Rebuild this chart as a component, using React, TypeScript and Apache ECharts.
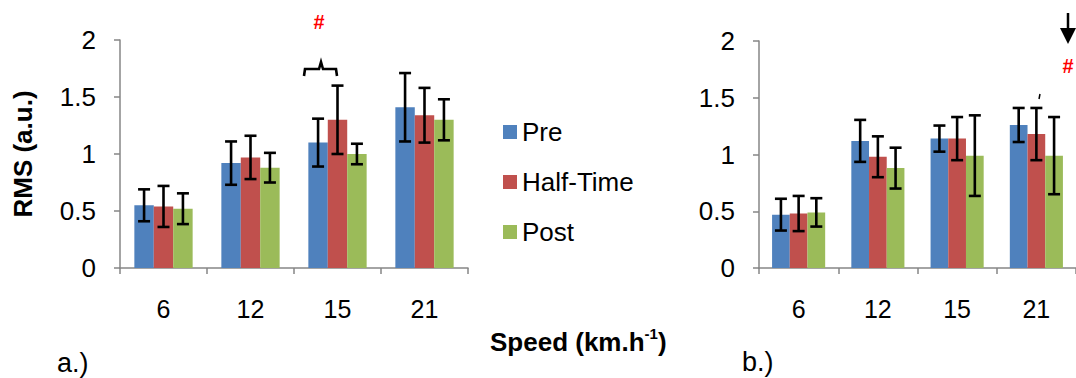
import React, { useEffect, useRef } from "react";
import * as echarts from "echarts";

const categories = ["6", "12", "15", "21"];
const seriesNames = ["Pre", "Half-Time", "Post"];
const colors = ["#4F81BD", "#C0504D", "#9BBB59"];

// Panel a.)
const aPre = [0.55, 0.92, 1.1, 1.41];
const aPreErr = [0.14, 0.19, 0.21, 0.3];
const aHalf = [0.54, 0.97, 1.3, 1.34];
const aHalfErr = [0.18, 0.19, 0.3, 0.24];
const aPost = [0.52, 0.88, 1.0, 1.3];
const aPostErr = [0.135, 0.13, 0.09, 0.18];

// Panel b.)
const bPre = [0.47, 1.12, 1.14, 1.26];
const bPreErr = [0.14, 0.185, 0.115, 0.15];
const bHalf = [0.48, 0.98, 1.14, 1.18];
const bHalfErr = [0.155, 0.18, 0.19, 0.23];
const bPost = [0.49, 0.88, 0.99, 0.99];
const bPostErr = [0.125, 0.18, 0.355, 0.34];

const yTicks = [0, 0.5, 1, 1.5, 2];

const FONT = 'Arial, "Liberation Sans", sans-serif';
const AXIS_COLOR = "#868686";
const CAT_GAP = 0.33;

function errorSeries(gridIdx: number, k: number, vals: number[], errs: number[]) {
  return {
    type: "custom",
    name: seriesNames[k] + " SD",
    xAxisIndex: gridIdx,
    yAxisIndex: gridIdx,
    z: 10,
    silent: true,
    encode: { x: 0, y: 1 },
    data: vals.map((v, i) => [i, v, errs[i]]),
    renderItem: (params: any, api: any) => {
      const cat = api.value(0);
      const val = api.value(1);
      const err = api.value(2);
      const catW = api.size([1, 0])[0];
      const barW = (catW * (1 - CAT_GAP)) / 3;
      const off = (k - 1) * barW;
      const top = api.coord([cat, val + err]);
      const bot = api.coord([cat, val - err]);
      const x = top[0] + off;
      const cap = 6;
      const style = { stroke: "#000", lineWidth: 2.6 };
      return {
        type: "group",
        children: [
          { type: "line", shape: { x1: x, y1: top[1], x2: x, y2: bot[1] }, style },
          { type: "line", shape: { x1: x - cap, y1: top[1], x2: x + cap, y2: top[1] }, style },
          { type: "line", shape: { x1: x - cap, y1: bot[1], x2: x + cap, y2: bot[1] }, style },
        ],
      };
    },
  };
}

function barSeries(gridIdx: number, k: number, vals: number[]) {
  return {
    type: "bar",
    name: seriesNames[k],
    xAxisIndex: gridIdx,
    yAxisIndex: gridIdx,
    data: vals,
    barGap: "0%",
    barCategoryGap: CAT_GAP * 100 + "%",
    itemStyle: { color: colors[k] },
  };
}

function xAxis(gridIndex: number) {
  return {
    type: "category",
    gridIndex,
    data: categories,
    axisLine: { lineStyle: { color: AXIS_COLOR, width: 1.5 } },
    axisTick: { show: true, length: 6, lineStyle: { color: AXIS_COLOR, width: 1.5 } },
    axisLabel: { color: "#000", fontSize: 25, fontFamily: FONT, margin: 28 },
  };
}

function yAxis(gridIndex: number, name: string) {
  return {
    type: "value",
    gridIndex,
    min: 0,
    max: 2,
    interval: 0.5,
    name,
    nameLocation: "middle",
    nameGap: 84,
    nameTextStyle: { color: "#000", fontSize: 26, fontWeight: "bold", fontFamily: FONT },
    axisLine: { show: true, lineStyle: { color: AXIS_COLOR, width: 1.5 } },
    axisTick: { show: true, length: 6, lineStyle: { color: AXIS_COLOR, width: 1.5 } },
    splitLine: { show: false },
    axisLabel: {
      color: "#000",
      fontSize: 26,
      fontFamily: FONT,
      margin: 24,
      formatter: (v: number) => (yTicks.includes(v) ? String(v) : ""),
    },
  };
}

export default function App() {
  const ref = useRef<HTMLDivElement>(null);
  useEffect(() => {
    if (!ref.current) return;
    const chart = echarts.init(ref.current, undefined, { renderer: "svg" });
    chart.setOption({
      animation: false,
      backgroundColor: "#fff",
      textStyle: { fontFamily: FONT },
      grid: [
        { left: 120, top: 40, width: 348, height: 228 },
        { left: 759, top: 41, width: 327, height: 227 },
      ],
      xAxis: [xAxis(0), xAxis(1)],
      yAxis: [yAxis(0, "RMS (a.u.)"), yAxis(1, "")],
      legend: {
        data: seriesNames,
        orient: "vertical",
        left: 498,
        top: 114,
        itemWidth: 14,
        itemHeight: 14,
        itemGap: 24,
        icon: "rect",
        textStyle: { color: "#000", fontSize: 26, fontFamily: FONT },
      },
      series: [
        barSeries(0, 0, aPre),
        barSeries(0, 1, aHalf),
        barSeries(0, 2, aPost),
        barSeries(1, 0, bPre),
        barSeries(1, 1, bHalf),
        barSeries(1, 2, bPost),
        errorSeries(0, 0, aPre, aPreErr),
        errorSeries(0, 1, aHalf, aHalfErr),
        errorSeries(0, 2, aPost, aPostErr),
        errorSeries(1, 0, bPre, bPreErr),
        errorSeries(1, 1, bHalf, bHalfErr),
        errorSeries(1, 2, bPost, bPostErr),
      ],
      graphic: [
        {
          type: "text",
          left: 490,
          top: 326,
          style: {
            text: "{b|Speed (km.h}{s|-1}{b|)}",
            rich: {
              b: { fontSize: 26, fontWeight: "bold", fontFamily: FONT, fill: "#000", lineHeight: 32 },
              s: { fontSize: 15, fontWeight: "bold", fontFamily: FONT, fill: "#000", verticalAlign: "top", lineHeight: 32, padding: [0, 0, 12, 0] },
            },
          },
        },
        { type: "text", x: 57, y: 363, style: { text: "a.)", fontSize: 27, fontFamily: FONT, fill: "#000", verticalAlign: "middle" } },
        { type: "text", x: 742, y: 362, style: { text: "b.)", fontSize: 27, fontFamily: FONT, fill: "#000", verticalAlign: "middle" } },
        { type: "text", x: 319, y: 22, style: { text: "#", fontSize: 20, fontWeight: "bold", fontFamily: FONT, fill: "#FF0000", align: "center", verticalAlign: "middle" } },
        { type: "text", x: 1068, y: 66, style: { text: "#", fontSize: 20, fontWeight: "bold", fontFamily: FONT, fill: "#FF0000", align: "center", verticalAlign: "middle" } },
        {
          type: "polyline",
          shape: { points: [[304, 76], [305, 69], [319, 69], [321, 62], [323, 69], [336, 69], [337, 76]] },
          style: { stroke: "#000", lineWidth: 2.6, fill: "none" },
        },
        { type: "line", shape: { x1: 1068, y1: 13, x2: 1068, y2: 30 }, style: { stroke: "#000", lineWidth: 2.5 } },
        { type: "polygon", shape: { points: [[1060, 28], [1076, 28], [1068, 44]] }, style: { fill: "#000" } },
        { type: "line", shape: { x1: 1040, y1: 94, x2: 1039, y2: 99 }, style: { stroke: "#000", lineWidth: 1.5 } },
      ],
    });
    return () => chart.dispose();
  }, []);
  return (
    <div
      ref={ref}
      style={{ position: "fixed", left: 0, top: 0, width: 1076, height: 378, background: "#fff" }}
    />
  );
}
